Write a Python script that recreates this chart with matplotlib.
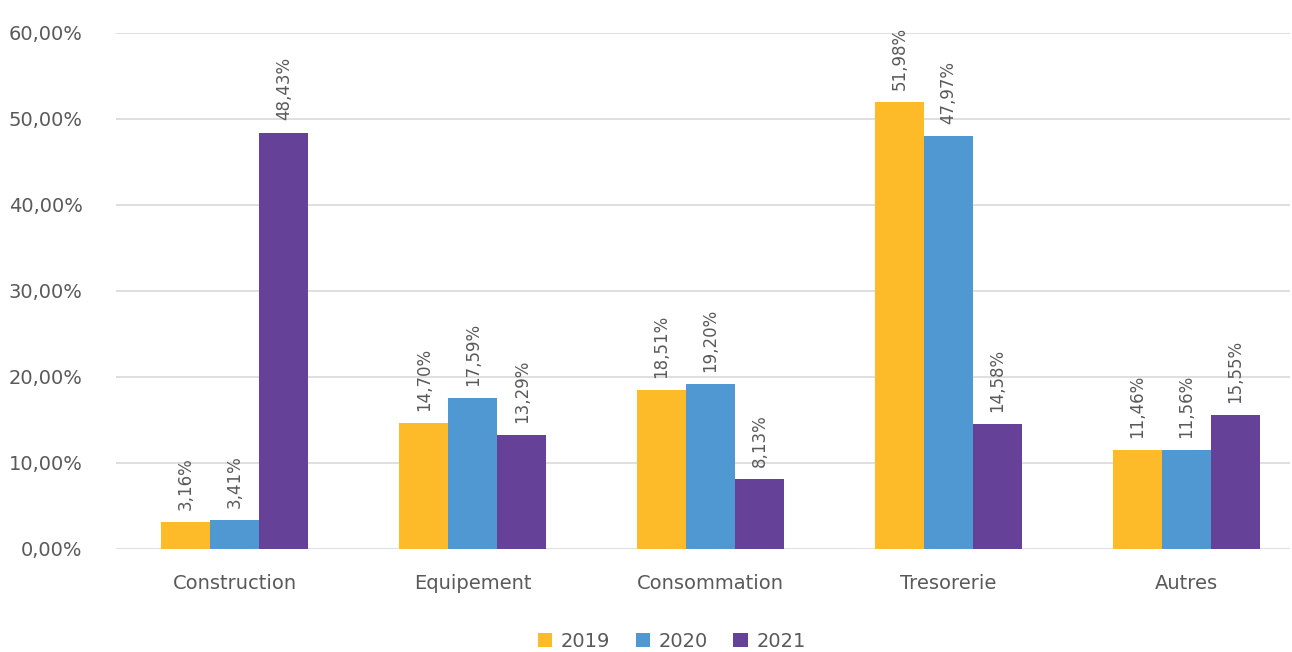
import numpy as np
import matplotlib.pyplot as plt
from matplotlib.ticker import FuncFormatter

categories = ['Construction', 'Equipement', 'Consommation', 'Tresorerie', 'Autres']
years = ['2019', '2020', '2021']
v2019 = [3.16, 14.70, 18.51, 51.98, 11.46]
v2020 = [3.41, 17.59, 19.20, 47.97, 11.56]
v2021 = [48.43, 13.29, 8.13, 14.58, 15.55]

colors = ['#FDBB2A', '#4F98D2', '#654298']
plt.rcParams['font.family'] = ['DejaVu Sans']
text_col = '#595959'

fig = plt.figure(figsize=(12.92, 6.52), dpi=100)
ax = fig.add_axes([116 / 1292, 1 - 549 / 652, (1290 - 116) / 1292, (549 - 33) / 652])

x = np.arange(len(categories))
w = 0.206
for i, (vals, lab) in enumerate(zip([v2019, v2020, v2021], years)):
    bars = ax.bar(x + (i - 1) * w, vals, w, color=colors[i], label=lab, zorder=3)
    for b, v in zip(bars, vals):
        ax.text(b.get_x() + b.get_width() / 2, v + 1.4, f'{v:.2f}%'.replace('.', ','),
                rotation=90, ha='center', va='bottom', fontsize=12, color=text_col)

ax.set_ylim(0, 60)
ax.set_xlim(-0.5, 4.437)
ax.set_yticks(np.arange(0, 61, 10))
ax.yaxis.set_major_formatter(FuncFormatter(lambda v, p: f'{v:.2f}%'.replace('.', ',')))
ax.set_xticks(x)
ax.set_xticklabels(categories)
ax.tick_params(length=0, labelsize=14, colors=text_col)
ax.tick_params(axis='x', pad=18)
ax.tick_params(axis='y', pad=24)
ax.grid(axis='y', color='#D9D9D9', lw=1.2, zorder=0)
for s in ax.spines.values():
    s.set_visible(False)

leg = fig.legend(loc='lower center', ncol=3, frameon=False, bbox_to_anchor=(0.52, -0.025),
                 fontsize=14, handlelength=0.75, handleheight=0.75, handletextpad=0.45,
                 columnspacing=1.3)
for t in leg.get_texts():
    t.set_color(text_col)

fig.savefig('out.png', dpi=100)
